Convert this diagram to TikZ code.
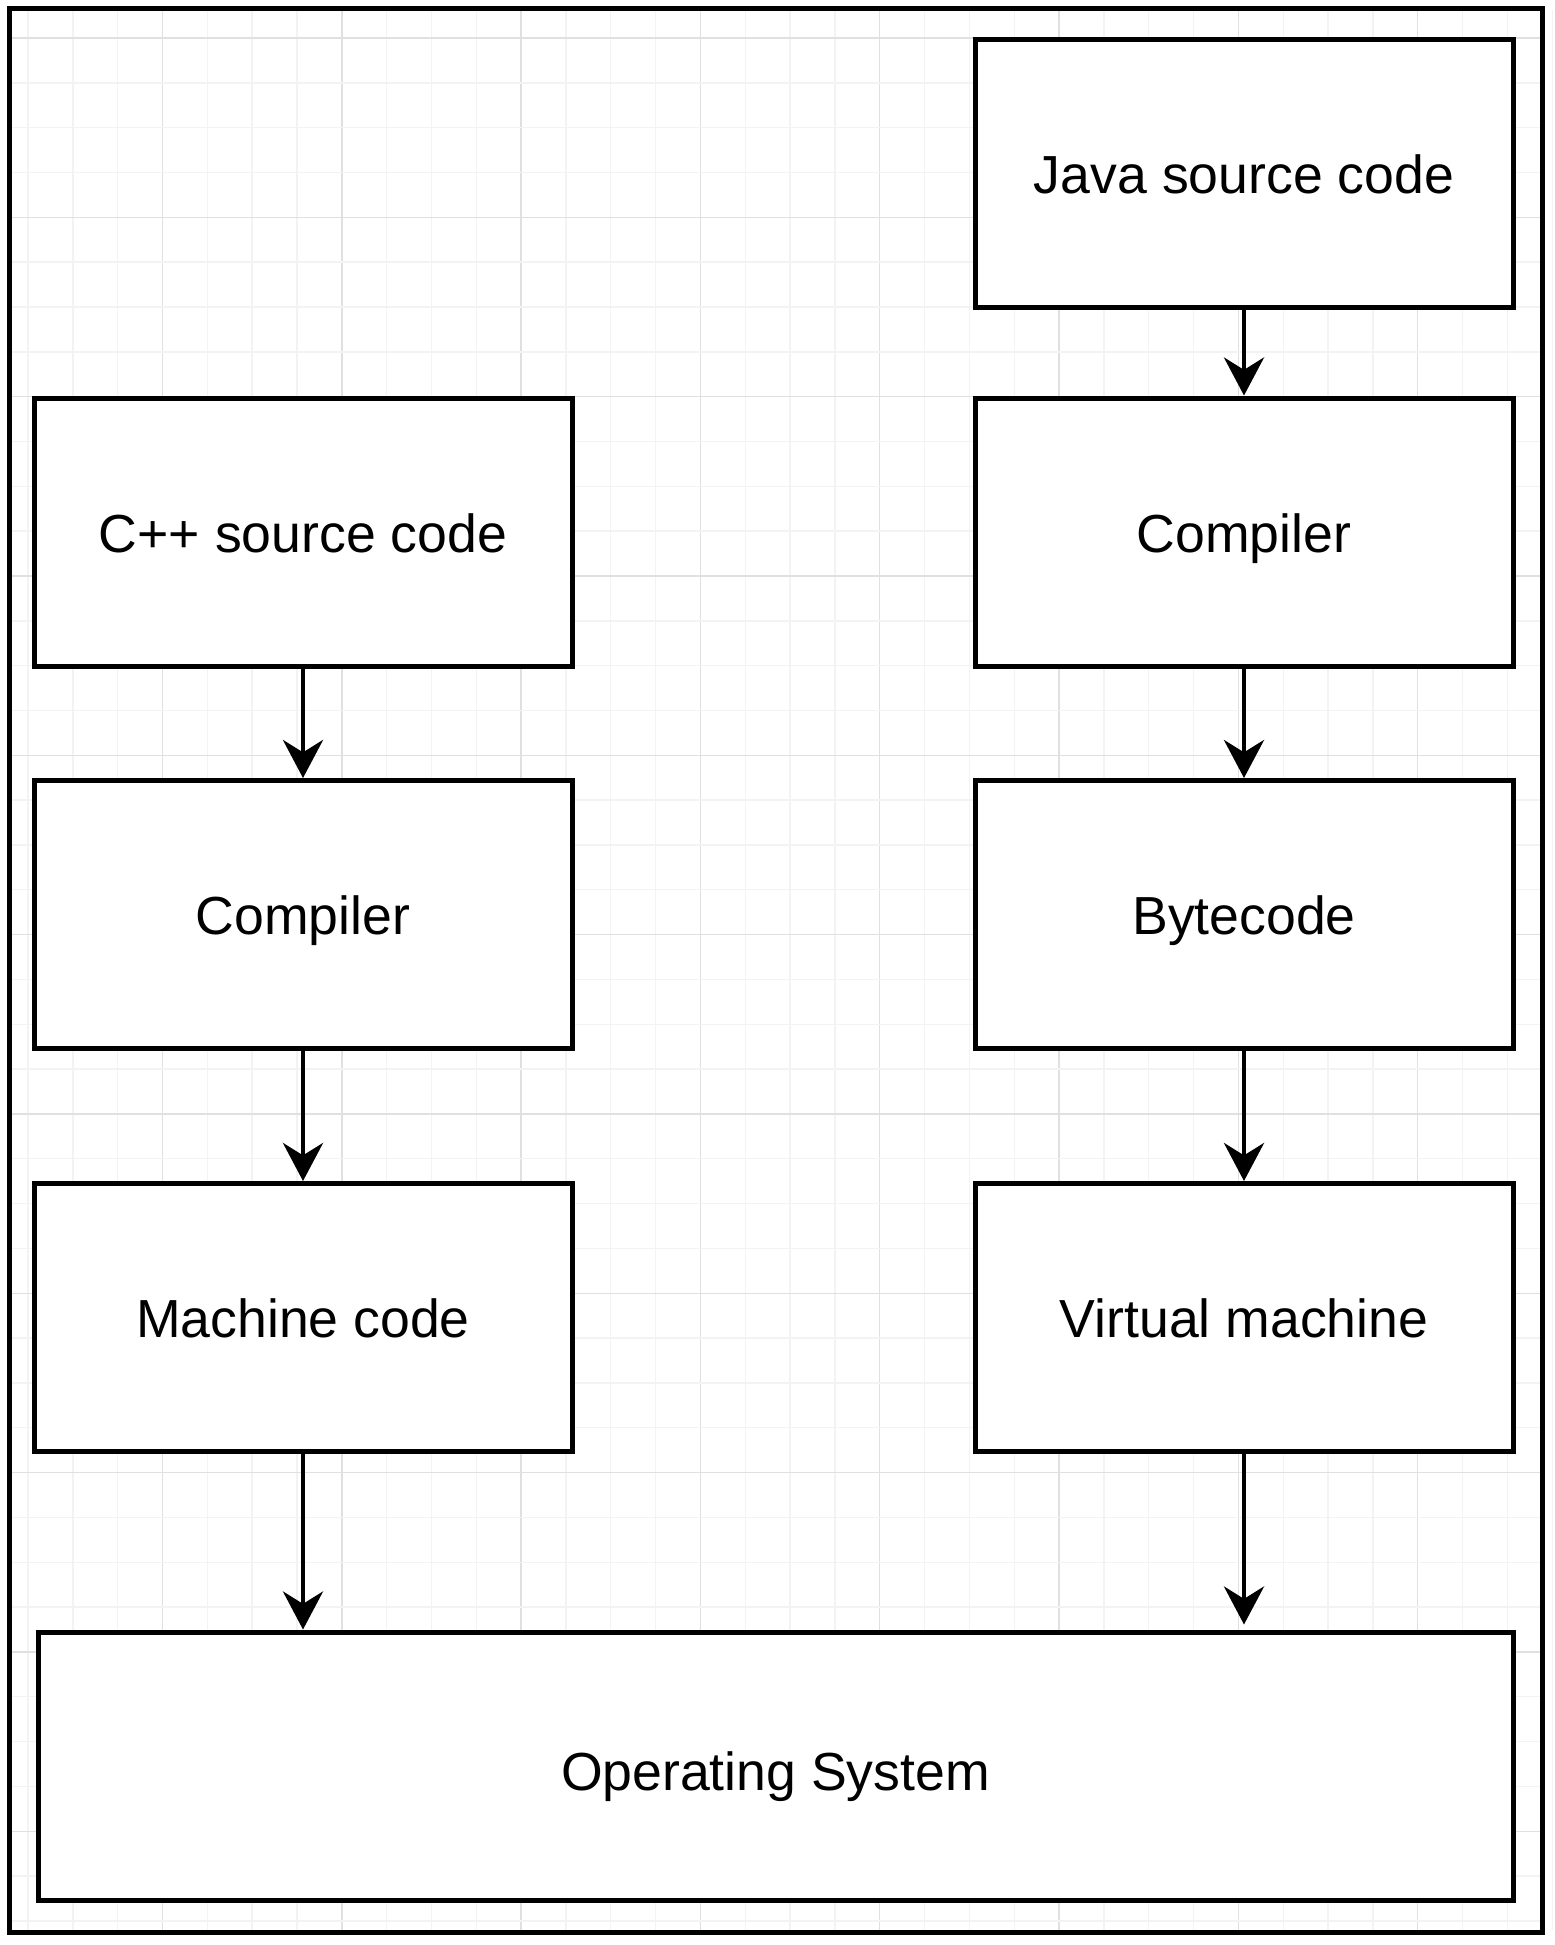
\documentclass[tikz,border=0pt]{standalone}
\usepackage{fontspec}
\setmainfont{Liberation Sans}
\usepackage{tikz}
\usetikzlibrary{arrows.meta}
\usetikzlibrary{positioning}

\definecolor{gridminor}{HTML}{F3F3F3}
\definecolor{gridmajor}{HTML}{E0E0E0}

\begin{document}
\begin{tikzpicture}[x=0.5pt,y=-0.5pt,>={Stealth[length=19pt,width=20pt]},
    box/.style={draw, line width=2.5pt, fill=white, inner sep=0pt,
      minimum width=269pt, minimum height=134pt,
      text height=20pt, text depth=0pt,
      font=\fontsize{26.8pt}{32pt}\selectfont},
    flow/.style={->, line width=2.3pt}]
  \useasboundingbox (0,0) rectangle (1554,1945);

  % background grid
  \foreach \k in {0,...,34} {
    \pgfmathsetmacro{\gx}{28+44.83*\k}
    \pgfmathtruncatemacro{\gm}{mod(\k,4)}
    \ifnum\gm=3
      \draw[gridmajor, line width=0.7pt] (\gx,10) -- (\gx,1930);
    \else
      \draw[gridminor, line width=0.7pt] (\gx,10) -- (\gx,1930);
    \fi
  }
  \foreach \k in {0,...,42} {
    \pgfmathsetmacro{\gy}{38+44.83*\k}
    \pgfmathtruncatemacro{\gm}{mod(\k,4)}
    \ifnum\gm=0
      \draw[gridmajor, line width=0.7pt] (12,\gy) -- (1540,\gy);
    \else
      \draw[gridminor, line width=0.7pt] (12,\gy) -- (1540,\gy);
    \fi
  }

  \draw[line width=2.5pt] (9.5,8) rectangle (1542.5,1932.5);

  % Java column
  \node[box] (java)  at (1244, 173)    {Java source code};
  \node[box] (compR) at (1244, 532)    {Compiler};
  \node[box] (byte)  at (1244, 914.5)  {Bytecode};
  \node[box] (vm)    at (1244, 1317.5) {Virtual machine};

  % C++ column
  \node[box] (cpp)   at (303, 532)     {C++ source code};
  \node[box] (compL) at (303, 914.5)   {Compiler};
  \node[box] (mach)  at (303, 1317.5)  {Machine code};

  \node[box, minimum width=737.5pt, text height=24pt] (os) at (775.5, 1766) {Operating System};

  \draw[flow] (java) -- (compR);
  \draw[flow] (compR) -- (byte);
  \draw[flow] (byte) -- (vm);
  \draw[flow] (vm) -- ([yshift=2.5pt]vm |- os.north);

  \draw[flow] (cpp) -- (compL);
  \draw[flow] (compL) -- (mach);
  \draw[flow] (mach) -- (mach |- os.north);
\end{tikzpicture}
\end{document}
